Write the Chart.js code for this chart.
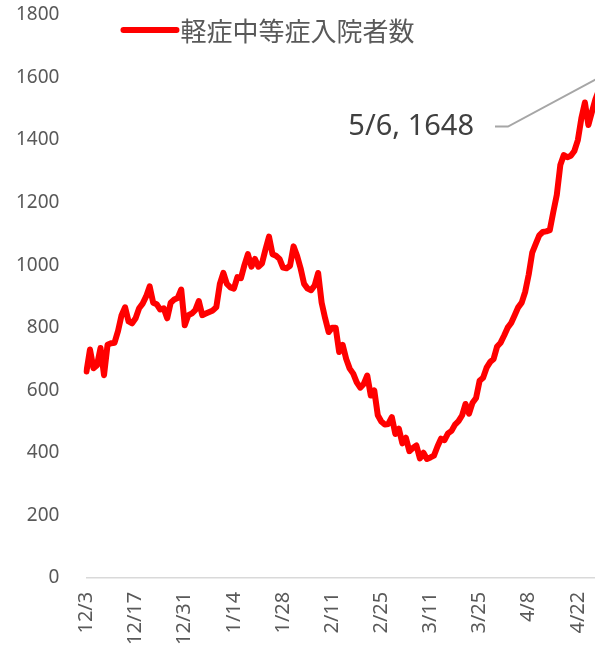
<!DOCTYPE html>
<html><head><meta charset="utf-8">
<script src="https://cdn.jsdelivr.net/npm/chart.js@4/dist/chart.umd.min.js"></script>
<style>
html,body{margin:0;padding:0;background:#fff;overflow:hidden;width:595px;height:648px;}
#wrap{position:absolute;left:0;top:0;width:651px;height:648px;}
</style></head>
<body>
<div id="wrap"><canvas id="c" width="651" height="648"></canvas></div>
<script>
// Categories: daily dates 12/3 .. 5/6
const monthDays = [[12,31],[1,31],[2,28],[3,31],[4,30],[5,31]];
const categories = [];
(function(){ let m=0, d=3; while(categories.length<155){ categories.push(monthDays[m][0]+'/'+d); d++; if(d>monthDays[m][1]){m++; d=1;} } })();

const tickLabels = ['12/3','12/17','12/31','1/14','1/28','2/11','2/25','3/11','3/25','4/8','4/22','5/6'];
const yTicks = [0,200,400,600,800,1000,1200,1400,1600,1800];
const seriesName = '軽症中等症入院者数';
const inpatients = [
 660,730,670,680,735,648,745,750,752,790,
 840,865,820,814,830,862,877,900,932,880,
 875,858,862,830,880,890,895,922,808,840,
 845,856,885,840,845,850,855,866,940,975,
 940,929,925,962,958,1000,1035,995,1020,995,
 1005,1050,1091,1035,1030,1020,992,990,998,1060,
 1030,990,940,925,920,935,975,880,830,786,
 800,800,722,745,700,669,653,625,608,620,
 647,583,599,520,500,490,492,514,460,477,
 430,448,405,415,423,382,400,380,385,391,
 420,445,440,462,470,490,501,519,556,525,
 560,575,630,640,672,690,700,740,752,775,
 800,815,840,865,880,915,970,1040,1068,1095,
 1106,1108,1112,1170,1225,1320,1352,1345,1350,1365,
 1400,1470,1520,1448,1490,1530,1560,1545,1590,1610,
 1580,1620,1630,1640,1648
];
const calloutIndex = 154;
const calloutText = '5/6, 1648';

const FONT = '"Noto Sans", "Noto Sans CJK JP", sans-serif';

const overlay = {
  id:'overlay',
  afterDatasetsDraw(chart){
    const ctx = chart.ctx, ca = chart.chartArea;
    const xs = chart.scales.x, ys = chart.scales.y;
    ctx.save();
    // legend (inside plot area)
    const lx = ca.left + 37, ly = ca.top + 15;
    ctx.strokeStyle = '#FF0000'; ctx.lineWidth = 6; ctx.lineCap = 'round';
    ctx.beginPath(); ctx.moveTo(lx, ly); ctx.lineTo(lx+53, ly); ctx.stroke();
    ctx.fillStyle = '#595959'; ctx.font = '26px "Noto Sans CJK JP", sans-serif';
    ctx.textBaseline = 'middle'; ctx.textAlign = 'left';
    ctx.fillText(chart.data.datasets[0].label, lx+57, ly+1);
    // callout
    const px = xs.getPixelForValue(calloutIndex), py = ys.getPixelForValue(inpatients[calloutIndex]);
    const bx = px - 119, by = py + 64;
    ctx.strokeStyle = '#A6A6A6'; ctx.lineWidth = 2; ctx.lineCap = 'butt';
    ctx.beginPath(); ctx.moveTo(bx-13, by); ctx.lineTo(bx, by); ctx.lineTo(px, py); ctx.stroke();
    ctx.fillStyle = '#404040'; ctx.font = '29px ' + FONT; ctx.textAlign = 'right';
    ctx.fillText(calloutText, bx-34, by);
    ctx.restore();
  }
};

new Chart(document.getElementById('c'), {
  type:'line',
  data:{ labels: categories, datasets:[{ label: seriesName, data: inpatients,
    borderColor:'#FF0000', backgroundColor:'#FF0000', borderWidth:6, pointRadius:0,
    borderJoinStyle:'round', borderCapStyle:'round', tension:0 }]},
  options:{
    responsive:false, animation:false,
    layout:{ padding:{ left:16, top:15, right:0, bottom:3 } },
    plugins:{ legend:{display:false}, tooltip:{enabled:false} },
    scales:{
      x:{ offset:false,
        grid:{ display:false, drawTicks:true, tickLength:14, color:'rgba(0,0,0,0)' },
        border:{ display:true, color:'#D9D9D9', width:1.5 },
        ticks:{ autoSkip:false, maxRotation:90, minRotation:90, padding:0, color:'#595959',
          font:{ family:FONT, size:20 },
          callback(v){ const l = categories[v]; return tickLabels.includes(l) ? l : null; } } },
      y:{ min:0, max:1800,
        grid:{ display:false, drawTicks:true, tickLength:27, color:'rgba(0,0,0,0)' },
        border:{ display:false },
        afterBuildTicks(s){ s.ticks = yTicks.map(v=>({value:v})); },
        ticks:{ padding:0, color:'#595959', font:{ family:FONT, size:19 },
          callback(v){ return String(v); } } }
    }
  },
  plugins:[overlay]
});
</script>
</body></html>
